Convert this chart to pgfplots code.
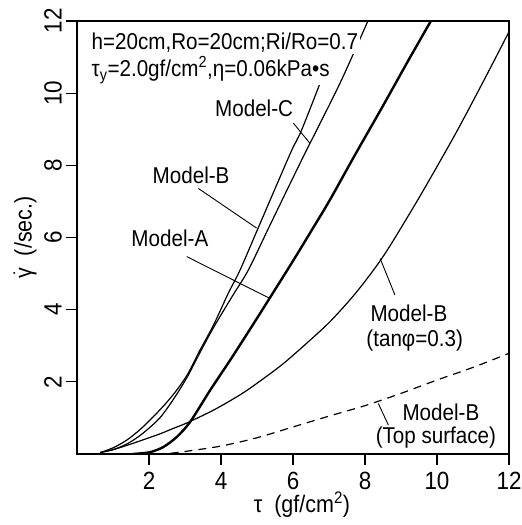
\documentclass[border=0pt]{standalone}
\usepackage{fontspec}
\setmainfont{Liberation Sans}[FakeStretch=0.9]
\usepackage{pgfplots}
\pgfplotsset{compat=1.18}

\begin{document}
\begin{tikzpicture}
\begin{axis}[
    scale only axis,
    width=432bp, height=433bp,
    xmin=0, xmax=12, ymin=0, ymax=12,
    xtick={2,4,...,12}, ytick={2,4,...,12},
    axis line style={line width=1.3bp},
    tick align=outside,
    xtick pos=left, ytick pos=left,
    major tick length=11bp,
    tick style={line width=1.2bp, black},
    /pgf/number format/assume math mode=true,
    ticklabel style={font=\fontsize{25}{25}\selectfont},
    xticklabel style={anchor=center, yshift=-16bp},
    yticklabel style={rotate=90, anchor=center, yshift=13bp},
    xlabel={τ~~(gf/cm\textsuperscript{2})},
    ylabel={$\dot{\mbox{γ}}$~~(/sec.)},
    label style={font=\fontsize{24}{24}\selectfont},
    xlabel style={at={(axis description cs:0.5,0)}, anchor=center, yshift=-51bp, xshift=9bp},
    ylabel style={at={(axis description cs:0,0.5)}, anchor=center, yshift=52bp},
    clip=true,
]
% Model-C
\addplot[smooth, line width=1.2bp] coordinates {
 (0.64,0.04) (1.0,0.12) (1.39,0.28) (1.8,0.55) (2.3,1.0) (2.7,1.55) (3.06,2.13)
 (3.4,2.78) (3.79,3.50) (4.3,4.35) (4.76,5.10) (5.33,6.28) (5.85,7.35) (6.38,8.43)
 (6.66,8.98) (7.35,10.37) (8.08,12.0)};
% Model-B
\addplot[smooth, line width=1.2bp] coordinates {
 (0.64,0.04) (1.0,0.17) (1.39,0.39) (1.8,0.72) (2.3,1.22) (2.7,1.68) (3.06,2.19)
 (3.4,2.85) (3.79,3.57) (4.2,4.45) (4.53,5.10) (5.04,6.28) (5.5,7.35) (5.97,8.43)
 (6.24,8.98) (6.8,10.4)};
% Model-A
\addplot[smooth, line width=2.4bp] coordinates {
 (1.55,0) (1.9,0.03) (2.1,0.07) (2.41,0.2) (2.78,0.48) (3.15,0.9) (3.70,1.77)
 (4.26,2.61) (4.91,3.62) (5.34,4.30) (6.0,5.35) (6.5,6.17) (7.03,7.05) (7.7,8.25)
 (8.5,9.65) (9.2,10.9) (9.83,12.0)};
% Model-B (tan phi = 0.3)
\addplot[smooth, line width=1.2bp] coordinates {
 (0.64,0.04) (1.0,0.12) (1.39,0.24) (1.8,0.38) (2.31,0.56) (2.7,0.72) (3.05,0.86)
 (3.8,1.22) (4.53,1.64) (5.0,1.96) (5.7,2.48) (6.38,3.07) (7.0,3.64) (7.58,4.27)
 (8.05,4.85) (8.6,5.62) (9.5,7.1) (10.5,8.85) (11.3,10.35) (12.0,11.7)};
% Model-B (top surface)
\addplot[smooth, line width=1.2bp, dash pattern=on 8bp off 6bp] coordinates {
 (2.6,0.02) (3.0,0.07) (4.0,0.22) (5.0,0.45) (6.0,0.75) (7.0,1.05) (8.0,1.34)
 (9.0,1.68) (10.0,2.05) (11.0,2.4) (12.0,2.79)};

% leaders
\draw[line width=0.9bp] (axis cs:6.01,9.17) -- (axis cs:6.47,8.61);
\draw[line width=0.9bp] (axis cs:3.37,7.36) -- (axis cs:4.99,6.26);
\draw[line width=0.9bp] (axis cs:3.05,5.47) -- (axis cs:5.34,4.32);
\draw[line width=0.9bp] (axis cs:8.83,4.41) -- (axis cs:8.42,5.42);
\draw[line width=0.9bp] (axis cs:8.65,0.80) -- (axis cs:8.37,1.40);

\begin{scope}[every node/.style={font=\fontsize{23}{23}\selectfont, inner sep=0pt}]
\node[anchor=base] at (axis cs:4.92,9.35) {Model-C};
\node[anchor=base] at (axis cs:3.17,7.50) {Model-B};
\node[anchor=base] at (axis cs:2.58,5.75) {Model-A};
\node[anchor=base] at (axis cs:9.22,3.67) {Model-B};
\node[anchor=base] at (axis cs:9.38,2.97) {(tanφ=0.3)};
\node[anchor=base] at (axis cs:10.11,0.94) {Model-B};
\node[anchor=base] at (axis cs:9.97,0.30) {(Top surface)};
\node[anchor=base west, fill=white, inner sep=1.5bp] at (axis cs:0.36,11.2) {h=20cm,Ro=20cm;Ri/Ro=0.7};
\node[anchor=base west, fill=white, inner sep=1.5bp] at (axis cs:0.36,10.46) {τ\textsubscript{y}=2.0gf/cm\textsuperscript{2},η=0.06kPa•s};
\end{scope}
\node[font=\fontsize{25}{25}\selectfont] at (rel axis cs:0,0) [xshift=-20bp, yshift=-26bp] {0};
\end{axis}
\pgfresetboundingbox
\path[use as bounding box] (current axis.south west) ++(-77bp,-71bp) rectangle ++(522bp,525bp);
\end{tikzpicture}
\end{document}
